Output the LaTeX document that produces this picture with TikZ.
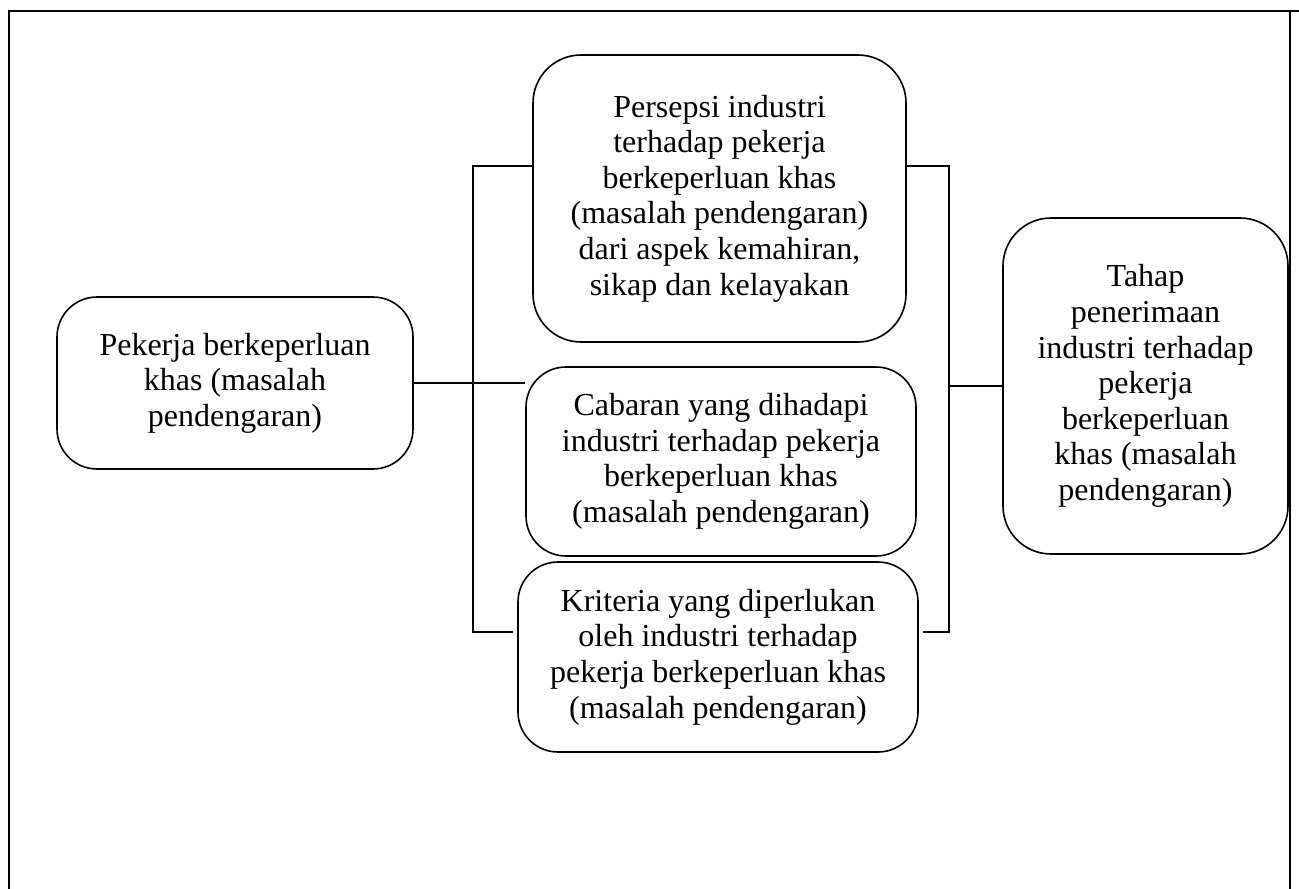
\documentclass[tikz,border=0pt]{standalone}
\usepackage{fontspec}
\setmainfont{Liberation Serif}
\usetikzlibrary{calc}
\tikzset{
  box/.style={draw, line width=0.8pt, rounded corners=#1, align=center, inner sep=0pt,
    font=\fontsize{16}{17.8}\selectfont},
  box/.default=22pt,
  conn/.style={line width=0.8pt},
  frame/.style={line width=1.1pt}
}
\begin{document}
\begin{tikzpicture}[x=0.5pt,y=-0.5pt]
\useasboundingbox (0,0) rectangle (1299,888);
\draw[frame] (9,900) -- (9,11) -- (1299,11);
\draw[frame] (1290,11) -- (1290,900);

\node[box=20pt, minimum width=178pt, minimum height=86pt] (left) at (235,383)
  {Pekerja berkeperluan\\khas (masalah\\pendengaran)};
\node[box=24pt, minimum width=186.5pt, minimum height=143.5pt] (top) at (719.5,198.5)
  {Persepsi industri\\terhadap pekerja\\berkeperluan khas\\(masalah pendengaran)\\dari aspek kemahiran,\\sikap dan kelayakan};
\node[box=20pt, minimum width=195pt, minimum height=94.5pt] (mid) at (721,461.5)
  {Cabaran yang dihadapi\\industri terhadap pekerja\\berkeperluan khas\\(masalah pendengaran)};
\node[box=20pt, minimum width=200pt, minimum height=95pt] (bot) at (718,657)
  {Kriteria yang diperlukan\\oleh industri terhadap\\pekerja berkeperluan khas\\(masalah pendengaran)};
\node[box=24pt, minimum width=142.5pt, minimum height=168pt] (right) at (1145.5,386)
  {Tahap\\penerimaan\\industri terhadap\\pekerja\\berkeperluan\\khas (masalah\\pendengaran)};

\coordinate (lb1) at (473,166);
\coordinate (lb2) at (473,632);
\coordinate (rb1) at (949,166);
\coordinate (rb2) at (949,632);

\draw[conn] (lb1 -| top.west) -- (lb1) -- (lb2) -- ($(lb2 -| bot.west)+(-4,0)$);
\draw[conn] (left.east) -- (left.east -| mid.west);
\draw[conn] (rb1 -| top.east) -- (rb1) -- (rb2) -- ($(rb2 -| bot.east)+(4,0)$);
\draw[conn] (right.west -| rb1) -- (right.west);
\end{tikzpicture}
\end{document}
